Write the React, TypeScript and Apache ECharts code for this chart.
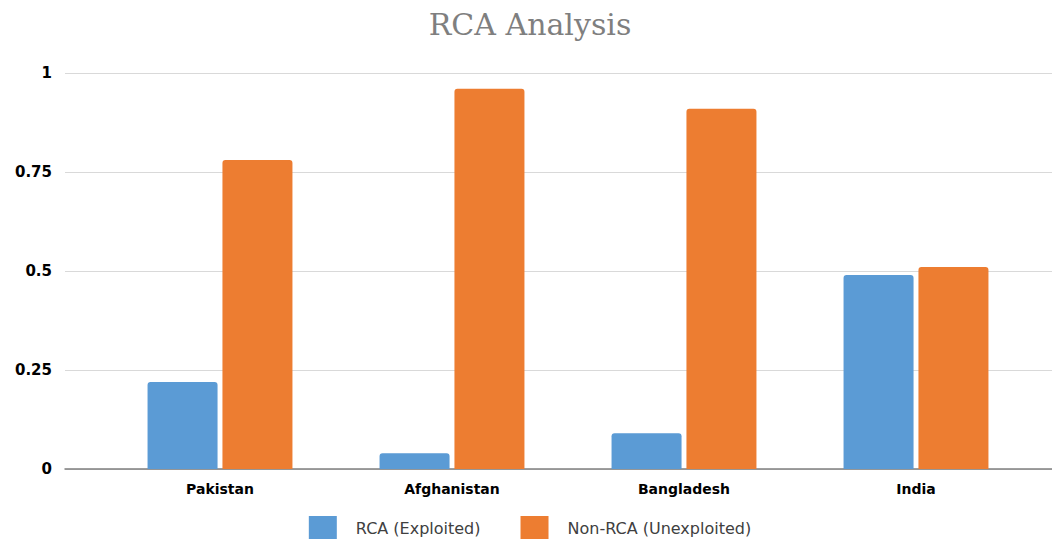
import React, { useEffect, useRef } from "react";
import * as echarts from "echarts";

const categories = ["Pakistan", "Afghanistan", "Bangladesh", "India"];
const rcaExploited = [0.22, 0.04, 0.09, 0.49];
const nonRcaUnexploited = [0.78, 0.96, 0.91, 0.51];
const seriesNames = ["RCA (Exploited)", "Non-RCA (Unexploited)"];
const colors = ["#5B9BD5", "#ED7D31"];

export default function App() {
  const ref = useRef<HTMLDivElement>(null);
  useEffect(() => {
    if (!ref.current) return;
    const chart = echarts.init(ref.current, null, { renderer: "svg" });
    chart.setOption({
      animation: false,
      backgroundColor: "#ffffff",
      title: {
        text: "RCA Analysis",
        left: "center",
        top: 4,
        textStyle: {
          fontFamily: "DejaVu Serif",
          fontWeight: "normal",
          fontSize: 30,
          color: "#7f7f7f",
        },
      },
      legend: {
        bottom: 1,
        left: "center",
        icon: "rect",
        itemWidth: 28,
        itemHeight: 25,
        itemGap: 40,
        data: seriesNames,
        textStyle: {
          fontFamily: "DejaVu Sans",
          fontSize: 16,
          color: "#404040",
          padding: [0, 0, 0, 14],
        },
      },
      grid: [
        { left: 65, right: 0, top: 73, bottom: 78 },
        { left: 104, right: 28, top: 73, bottom: 78 },
      ],
      xAxis: [
        {
          type: "value",
          gridIndex: 0,
          min: 0,
          max: 1,
          axisLine: { show: true, lineStyle: { color: "#7f7f7f", width: 1.5 } },
          axisLabel: { show: false },
          axisTick: { show: false },
          splitLine: { show: false },
        },
        {
          type: "category",
          gridIndex: 1,
          data: categories,
          axisLine: { show: false },
          axisTick: { show: false },
          axisLabel: {
            margin: 13,
            fontFamily: "DejaVu Sans",
            fontWeight: "bold",
            fontSize: 14,
            color: "#000000",
          },
        },
      ],
      yAxis: [
        {
          type: "value",
          gridIndex: 0,
          min: 0,
          max: 1,
          interval: 0.25,
          axisLine: { show: false },
          axisTick: { show: false },
          axisLabel: {
            margin: 13,
            fontFamily: "DejaVu Sans",
            fontWeight: "bold",
            fontSize: 15,
            color: "#000000",
          },
          splitLine: { lineStyle: { color: "#d9d9d9", width: 1 } },
        },
        {
          type: "value",
          gridIndex: 1,
          min: 0,
          max: 1,
          show: false,
          splitLine: { show: false },
        },
      ],
      series: [
        {
          name: seriesNames[0],
          type: "bar",
          xAxisIndex: 1,
          yAxisIndex: 1,
          data: rcaExploited,
          barWidth: 70,
          barGap: "7%",
          itemStyle: { color: colors[0], borderRadius: [3, 3, 0, 0] },
        },
        {
          name: seriesNames[1],
          type: "bar",
          xAxisIndex: 1,
          yAxisIndex: 1,
          data: nonRcaUnexploited,
          barWidth: 70,
          barGap: "7%",
          itemStyle: { color: colors[1], borderRadius: [3, 3, 0, 0] },
        },
      ],
    });
    return () => chart.dispose();
  }, []);
  return <div ref={ref} style={{ width: 1060, height: 547, margin: -8 }} />;
}
